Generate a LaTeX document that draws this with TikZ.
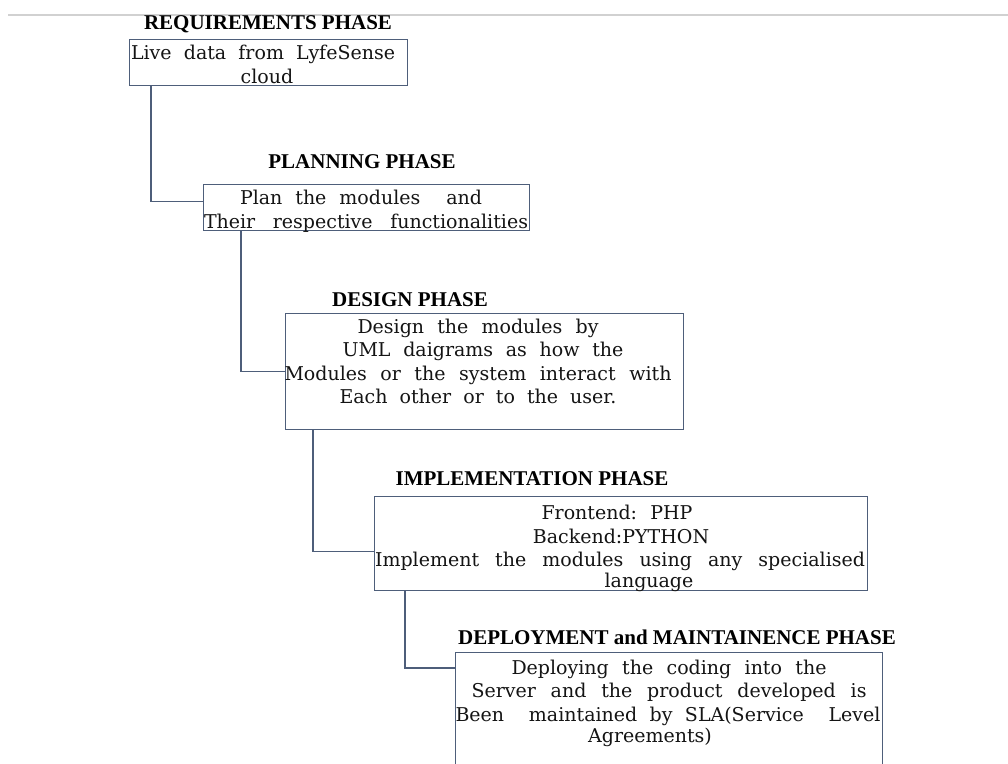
\documentclass[tikz,border=0pt]{standalone}
\usepackage{fontspec}
\setmainfont{DejaVu Serif}
\newfontfamily\titlefont{Liberation Serif}
\definecolor{boxline}{RGB}{78,94,122}
\definecolor{txt}{RGB}{20,20,20}
\tikzset{
  box/.style={draw=boxline, line width=1.1pt, rectangle, anchor=north west, inner sep=0pt},
  conn/.style={draw=boxline, line width=1.1pt},
  ttl/.style={anchor=base, inner sep=0pt, font=\titlefont\bfseries\fontsize{21}{24}\selectfont, text=black},
  ln/.style={anchor=base, inner sep=0pt, font=\fontsize{19}{23}\selectfont, text=txt},
}
\newcommand{\spreadto}[2]{\makebox[#1pt][s]{#2}}
\begin{document}
\begin{tikzpicture}[x=1pt,y=-1pt]
\useasboundingbox (0,0) rectangle (1008,763);
\fill[white] (0,0) rectangle (1008,763);
% top rule
\coordinate (gl) at (8,15);
\coordinate (gr) at (1008,15);
\draw[black!18, line width=1.6pt] (gl) -- (gr);

% boxes
\node[box, minimum width=278pt, minimum height=46pt] (b1) at (129,39) {};
\node[box, minimum width=326pt, minimum height=46pt] (b2) at (203,184) {};
\node[box, minimum width=398pt, minimum height=116pt] (b3) at (285,313) {};
\node[box, minimum width=493pt, minimum height=94pt] (b4) at (374,496) {};
\node[box, minimum width=427pt, minimum height=160pt] (b5) at (455,652) {};

% titles
\node[ttl] (t1) at (268,29) {REQUIREMENTS PHASE};
\node[ttl] (t2) at (362,168) {PLANNING PHASE};
\node[ttl] (t3) at (410,306) {DESIGN PHASE};
\node[ttl] (t4) at (532,485) {IMPLEMENTATION PHASE};
\node[ttl] (t5) at (677,644) {DEPLOYMENT and MAINTAINENCE PHASE};

% box 1 text
\node[ln] (l11) at (263,59) {\spreadto{264}{Live data from LyfeSense}};
\node[ln] (l12) at (267,83) {cloud};
% box 2 text
\node[ln] (l21) at (361,204) {\spreadto{242}{Plan the modules \ and}};
\node[ln] (l22) at (366,228) {\spreadto{324}{Their respective functionalities}};
% box 3 text
\node[ln] (l31) at (478,333) {\spreadto{241}{Design the modules by}};
\node[ln] (l32) at (483,356) {\spreadto{281}{UML daigrams as how the}};
\node[ln] (l33) at (478,380) {\spreadto{387}{Modules or the system interact with}};
\node[ln] (l34) at (478,403) {\spreadto{277}{Each other or to the user.}};
% box 4 text
\node[ln] (l41) at (617,519) {\spreadto{151}{Frontend: PHP}};
\node[ln] (l42) at (621,543) {Backend:PYTHON};
\node[ln] (l43) at (620,566) {\spreadto{490}{Implement the modules using any specialised}};
\node[ln] (l44) at (649,587) {language};
% box 5 text
\node[ln] (l51) at (669,674) {\spreadto{315}{Deploying the coding into the}};
\node[ln] (l52) at (669,697) {\spreadto{395}{Server and the product developed is}};
\node[ln] (l53) at (668,721) {\spreadto{425}{Been \ maintained by SLA(Service \ Level}};
\node[ln] (l54) at (650,742) {Agreements)};

% connectors
\draw[conn] ([xshift=22pt]b1.south west) |- ([yshift=6pt]b2.west);
\draw[conn] ([xshift=38pt]b2.south west) |- (b3.west);
\draw[conn] ([xshift=28pt]b3.south west) |- ([yshift=-8pt]b4.west);
\draw[conn] ([xshift=31pt]b4.south west) |- ([yshift=-16pt]b5.north west);
\end{tikzpicture}
\end{document}
